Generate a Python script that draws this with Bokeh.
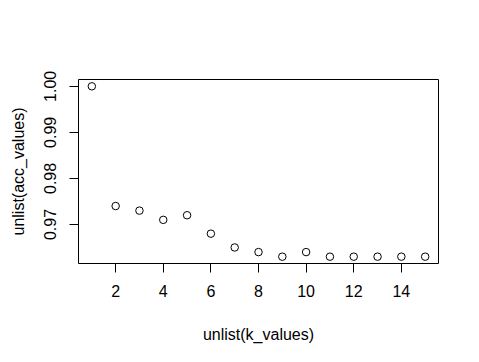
from bokeh.plotting import figure
from bokeh.models import Range1d, FixedTicker, NumeralTickFormatter
from bokeh.embed import file_html
from bokeh.resources import INLINE

k_values = [1, 2, 3, 4, 5, 6, 7, 8, 9, 10, 11, 12, 13, 14, 15]
acc_values = [1.000, 0.974, 0.973, 0.971, 0.972, 0.968, 0.965, 0.964,
              0.963, 0.964, 0.963, 0.963, 0.963, 0.963, 0.963]
x_ticks = [2, 4, 6, 8, 10, 12, 14]
y_ticks = [0.97, 0.98, 0.99, 1.00]

xpad = (max(k_values) - min(k_values)) * 0.04
ypad = (max(acc_values) - min(acc_values)) * 0.04

p = figure(width=479, height=362, output_backend="svg", toolbar_location=None,
           x_range=Range1d(min(k_values) - xpad, max(k_values) + xpad),
           y_range=Range1d(min(acc_values) - ypad, max(acc_values) + ypad),
           min_border_left=78, min_border_right=41, min_border_top=79, min_border_bottom=99)

p.scatter(k_values, acc_values, size=7.5, fill_color=None, line_color="black", line_width=1)

p.xgrid.visible = False
p.ygrid.visible = False
p.outline_line_color = "black"
p.outline_line_width = 1
p.background_fill_color = "white"
p.border_fill_color = "white"

FONT = "Liberation Sans"
for ax in (p.xaxis[0], p.yaxis[0]):
    ax.axis_line_color = None
    ax.major_tick_line_color = "black"
    ax.major_tick_in = 0
    ax.major_tick_out = 9
    ax.minor_tick_line_color = None
    ax.major_label_text_font = FONT
    ax.major_label_text_font_size = "16px"
    ax.major_label_text_color = "black"
    ax.axis_label_text_font = FONT
    ax.axis_label_text_font_size = "16px"
    ax.axis_label_text_font_style = "normal"
    ax.axis_label_text_color = "black"

p.xaxis.ticker = FixedTicker(ticks=x_ticks)
p.yaxis.ticker = FixedTicker(ticks=y_ticks)
p.yaxis.formatter = NumeralTickFormatter(format="0.00")
p.yaxis.major_label_orientation = "vertical"
p.xaxis.axis_label = "unlist(k_values)"
p.yaxis.axis_label = "unlist(acc_values)"
p.xaxis.major_label_standoff = 12
p.yaxis.major_label_standoff = 13
p.xaxis.axis_label_standoff = 26
p.yaxis.axis_label_standoff = 15

open("out.html", "w").write(file_html(p, INLINE))
